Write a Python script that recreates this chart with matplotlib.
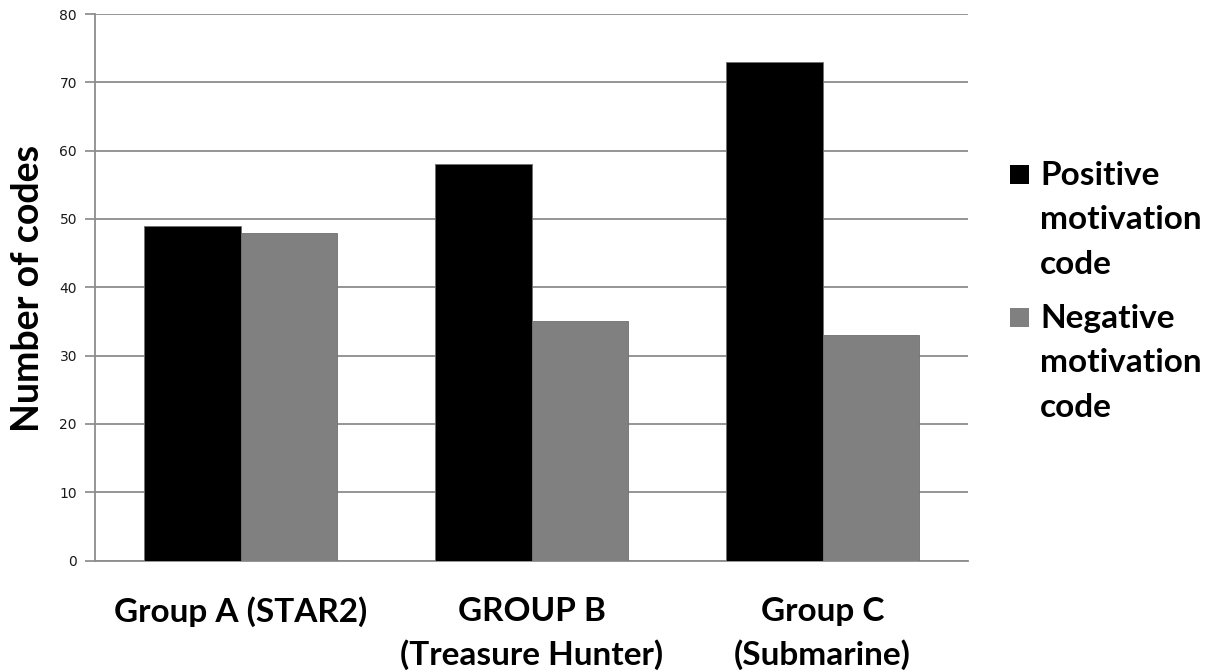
import matplotlib
matplotlib.use('Agg')
import matplotlib.pyplot as plt
from matplotlib.patches import Rectangle
import numpy as np

# данные диаграммы
groups = ['Group A (STAR2)', 'GROUP B\n(Treasure Hunter)', 'Group C\n(Submarine)']
positive = [49, 58, 73]
negative = [48, 35, 33]
series_names = ['Positive\nmotivation\ncode', 'Negative\nmotivation\ncode']
series_colors = ['#000000', '#808080']
y_ticks = [0, 10, 20, 30, 40, 50, 60, 70, 80]

label_font = 'Lato'
W, H = 1212, 672

fig = plt.figure(figsize=(W / 100, H / 100), dpi=100)
ax = fig.add_axes([95 / W, 1 - 560.5 / H, (968 - 95) / W, (560.5 - 14) / H])

x = np.arange(len(groups))
width = 0.33
ax.bar(x - width / 2, positive, width, color=series_colors[0], edgecolor='#707070', linewidth=0.6, zorder=3)
ax.bar(x + width / 2, negative, width, color=series_colors[1], edgecolor='#707070', linewidth=0.6, zorder=3)

ax.set_xlim(-0.5, len(groups) - 0.5)
ax.set_ylim(0, 80)
ax.set_yticks(y_ticks)
ax.tick_params(axis='y', length=7, width=1.2, color='#888888', labelsize=10, pad=6, labelcolor='#1a1a1a')
ax.set_xticks([])
ax.grid(axis='y', color='#8c8c8c', linewidth=1.3, zorder=0)
for side in ['top', 'right']:
    ax.spines[side].set_visible(False)
for side in ['left', 'bottom']:
    ax.spines[side].set_color('#8c8c8c')
    ax.spines[side].set_linewidth(1.3)

# подписи категорий
for xi, name in zip(x, groups):
    ax.text(xi, -5.3, name, ha='center', va='top', fontsize=24, fontweight='bold',
            family=label_font, linespacing=1.52, transform=ax.transData, clip_on=False)

fig.text(28 / W, 1 - 288 / H, 'Number of codes', rotation=90, ha='center', va='center',
         fontsize=27, fontweight='bold', family=label_font)

# легенда справа, квадрат на уровне первой строки
legend_tops = [161, 304]
for top, name, color in zip(legend_tops, series_names, series_colors):
    fig.add_artist(Rectangle((1010 / W, 1 - (top + 23) / H), 19 / W, 19 / H,
                             transform=fig.transFigure, facecolor=color, edgecolor='none'))
    fig.text(1040 / W, 1 - top / H, name, ha='left', va='top', fontsize=24,
             fontweight='bold', family=label_font, linespacing=1.64)

fig.savefig('out.png', dpi=100, facecolor='white')
